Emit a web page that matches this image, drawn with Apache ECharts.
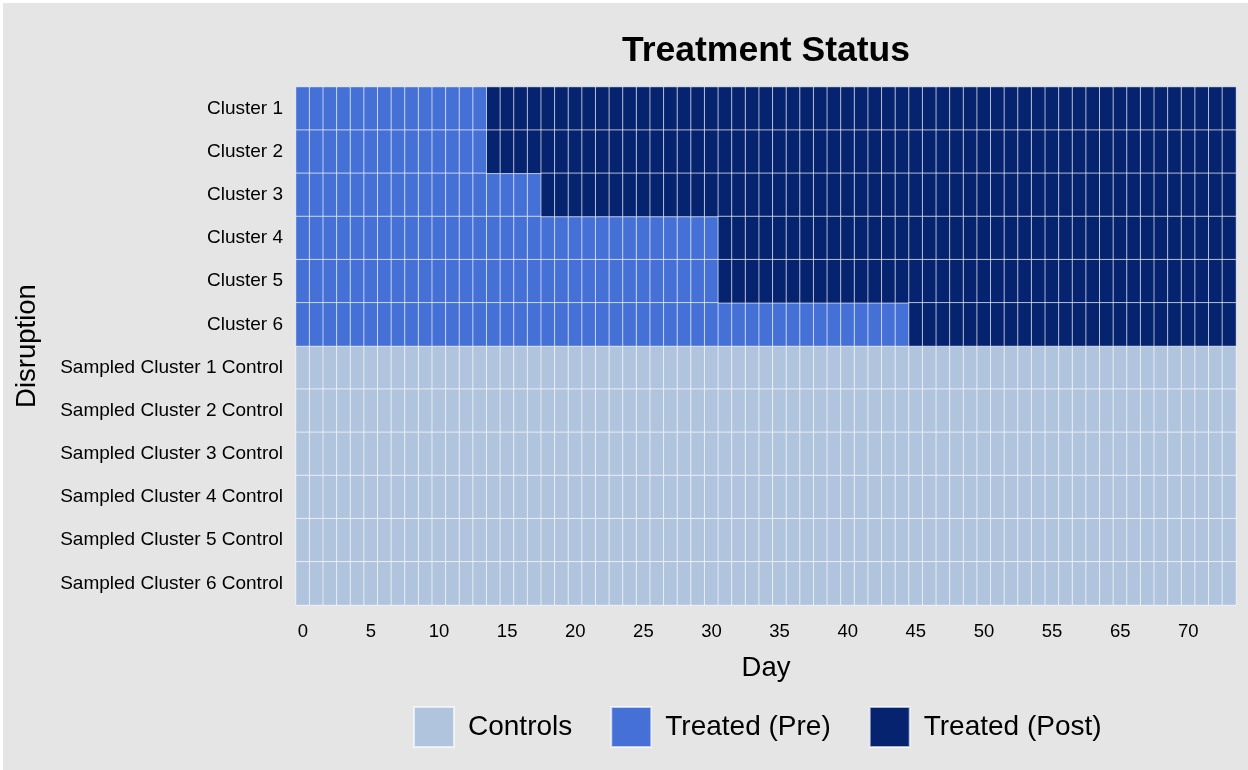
<!DOCTYPE html>
<html>
<head>
<meta charset="utf-8">
<script src="https://cdn.jsdelivr.net/npm/echarts@6/dist/echarts.min.js"></script>
<style>
  html, body { margin: 0; padding: 0; background: #ffffff; }
  #chart { position: absolute; left: 3px; top: 3px; width: 1245px; height: 767px; background: #e5e5e5; }
</style>
</head>
<body>
<div id="chart"></div>
<script>
// days on the x axis (60-64 are not in the data)
const days = [
  0, 1, 2, 3, 4, 5, 6, 7, 8, 9, 10, 11, 12, 13, 14, 15, 16, 17, 18, 19,
  20, 21, 22, 23, 24, 25, 26, 27, 28, 29, 30, 31, 32, 33, 34, 35, 36, 37, 38, 39,
  40, 41, 42, 43, 44, 45, 46, 47, 48, 49, 50, 51, 52, 53, 54, 55, 56, 57, 58, 59,
  65, 66, 67, 68, 69, 70, 71, 72, 73
]
const treatedUnits = ['Cluster 1', 'Cluster 2', 'Cluster 3', 'Cluster 4', 'Cluster 5', 'Cluster 6']
const controlUnits = [
  'Sampled Cluster 1 Control', 'Sampled Cluster 2 Control', 'Sampled Cluster 3 Control',
  'Sampled Cluster 4 Control', 'Sampled Cluster 5 Control', 'Sampled Cluster 6 Control'
]
// first day in the post period for each treated cluster
const treatStart = [14, 14, 18, 31, 31, 45]
const statusNames = ['Controls', 'Treated (Pre)', 'Treated (Post)']
const statusColors = ['#b0c4de', '#4571d6', '#05236e']

const units = treatedUnits.concat(controlUnits)

// build cells per status
const cells = [[], [], []]
units.forEach((u, r) => {
  days.forEach((d, c) => {
    let s = 0
    if (r < treatedUnits.length) s = d < treatStart[r] ? 1 : 2
    cells[s].push([c, r, 1])
  })
})

const chart = echarts.init(document.getElementById('chart'))
const option = {
  backgroundColor: '#e5e5e5',
  textStyle: { fontFamily: 'Liberation Sans, Arial, sans-serif' },
  title: {
    text: 'Treatment Status',
    left: 758,
    textAlign: 'center',
    top: 25,
    textStyle: { fontSize: 35.5, fontWeight: 'bold', color: '#000' }
  },
  grid: { left: 293, right: 12, top: 84, bottom: 165, containLabel: false, outerBoundsMode: 'none' },
  legend: {
    bottom: 17,
    left: 405,
    itemWidth: 40,
    itemHeight: 40,
    itemGap: 38,
    icon: 'rect',
    selectedMode: false,
    data: statusNames,
    textStyle: { fontSize: 28, color: '#000', padding: [0, 0, 0, 9] }
  },
  xAxis: {
    type: 'category',
    data: days,
    name: 'Day',
    nameLocation: 'middle',
    nameGap: 49,
    nameTextStyle: { fontSize: 27.5, color: '#000' },
    axisLine: { show: false },
    axisTick: { show: false },
    splitLine: { show: false },
    axisLabel: { interval: 4, fontSize: 18.5, color: '#000', margin: 17 }
  },
  yAxis: {
    type: 'category',
    data: units,
    inverse: true,
    name: 'Disruption',
    nameLocation: 'middle',
    nameGap: 255,
    nameRotate: 90,
    nameTextStyle: { fontSize: 27.5, color: '#000' },
    axisLine: { show: false },
    axisTick: { show: false },
    splitLine: { show: false },
    axisLabel: { fontSize: 19, color: '#000', margin: 13 }
  },
  series: statusNames.map((name, i) => ({
    name: name,
    type: 'heatmap',
    data: cells[i],
    itemStyle: {
      color: statusColors[i],
      borderColor: 'rgba(255,255,255,0.65)',
      borderWidth: 1
    },
    emphasis: { disabled: true }
  })),
  animation: false
}
chart.setOption(option)
</script>
</body>
</html>
